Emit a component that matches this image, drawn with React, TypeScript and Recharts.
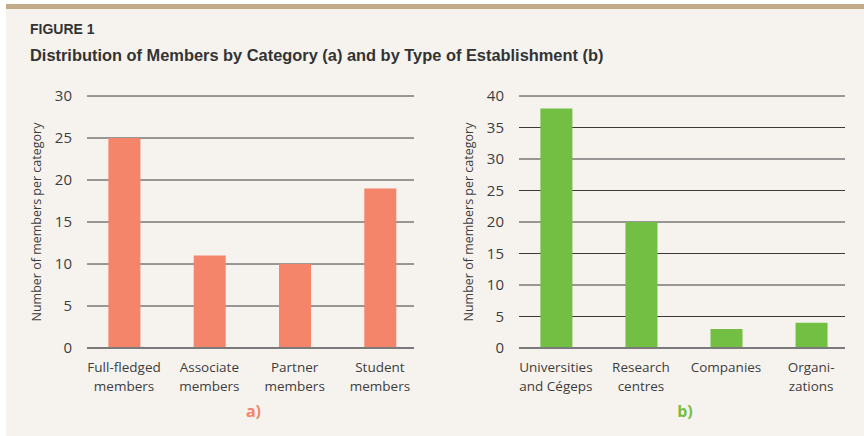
import { BarChart, Bar, XAxis, YAxis, CartesianGrid } from "recharts";

const categoriesA = ["Full-fledged\nmembers", "Associate\nmembers", "Partner\nmembers", "Student\nmembers"];
const valuesA = [25, 11, 10, 19];
const ticksA = [0, 5, 10, 15, 20, 25, 30];

const categoriesB = ["Universities\nand Cégeps", "Research\ncentres", "Companies", "Organi-\nzations"];
const valuesB = [38, 20, 3, 4];
const ticksB = [0, 5, 10, 15, 20, 25, 30, 35, 40];

const yTitle = "Number of members per category";
const textColor = "#3d3d3d";
const font = "'Open Sans', sans-serif";

const CatTick = (props: any) => {
  const { x, y, payload } = props;
  const lines = String(payload.value).split("\n");
  return (
    <text x={x} y={y} textAnchor="middle" fill={textColor} fontSize={13.5} fontFamily={font}>
      {lines.map((l, i) => (
        <tspan key={i} x={x} dy={i === 0 ? 16 : 19}>
          {l}
        </tspan>
      ))}
    </text>
  );
};

const yLabel = (props: any) => {
  const { viewBox } = props;
  const cx = viewBox.x + 9;
  const cy = viewBox.y + viewBox.height / 2;
  return (
    <text
      x={cx}
      y={cy}
      transform={`rotate(-90, ${cx}, ${cy})`}
      textAnchor="middle"
      dominantBaseline="central"
      fill={textColor}
      fontSize={12.5}
      fontFamily={font}
    >
      {yTitle}
    </text>
  );
};

const panelLabel = (text: string, color: string) => (props: any) => {
  const { viewBox } = props;
  return (
    <text
      x={viewBox.x + viewBox.width / 2 + 3}
      y={417}
      textAnchor="middle"
      fill={color}
      fontSize={16}
      fontWeight="bold"
      fontFamily={font}
    >
      {text}
    </text>
  );
};

function Panel({ cats, vals, ticks, max, color, tag, rightMargin }: any) {
  const data = cats.map((c: string, i: number) => ({ name: c, value: vals[i] }));
  return (
    <BarChart
      width={432}
      height={436}
      data={data}
      margin={{ top: 96, right: rightMargin, bottom: 58, left: 27 }}
    >
      <CartesianGrid vertical={false} stroke="#3a3a3a" strokeWidth={1} />
      <XAxis
        dataKey="name"
        interval={0}
        tick={<CatTick />}
        tickLine={false}
        axisLine={{ stroke: "#7a7a7a", strokeWidth: 2 }}
        padding={{ left: -5.6, right: -8.6 }}
        height={30}
        label={{ content: panelLabel(tag, color) }}
      />
      <YAxis
        width={60}
        domain={[0, max]}
        ticks={ticks}
        interval={0}
        tickLine={false}
        axisLine={false}
        tickMargin={9}
        tick={{ fill: textColor, fontSize: 15, fontFamily: font }}
        label={{ content: yLabel }}
      />
      <Bar dataKey="value" fill={color} barSize={32} isAnimationActive={false} />
    </BarChart>
  );
}

export default function App() {
  return (
    <div
      style={{
        position: "absolute",
        left: 0,
        top: 0,
        width: 864,
        height: 436,
        background: "#ffffff",
        overflow: "hidden",
      }}
    >
      <div
        style={{
          position: "absolute",
          left: 6,
          top: 4,
          width: 858,
          height: 432,
          background: "#f6f3ef",
          borderTop: "5px solid #c2ab88",
        }}
      />
      <div
        style={{
          position: "absolute",
          left: 30,
          top: 21,
          fontFamily: "'Liberation Sans Narrow', sans-serif",
          fontWeight: "bold",
          fontSize: 14,
          color: "#333333",
        }}
      >
        FIGURE 1
      </div>
      <div
        style={{
          position: "absolute",
          left: 30,
          top: 46,
          fontFamily: "'Liberation Sans Narrow', sans-serif",
          fontWeight: "bold",
          fontSize: 16.4,
          color: "#333333",
        }}
      >
        Distribution of Members by Category (a) and by Type of Establishment (b)
      </div>
      <div style={{ position: "absolute", left: 0, top: 0 }}>
        <Panel cats={categoriesA} vals={valuesA} ticks={ticksA} max={30} color="#f4846a" tag="a)" rightMargin={18} />
      </div>
      <div style={{ position: "absolute", left: 432, top: 0 }}>
        <Panel cats={categoriesB} vals={valuesB} ticks={ticksB} max={40} color="#72bf44" tag="b)" rightMargin={19} />
      </div>
    </div>
  );
}
